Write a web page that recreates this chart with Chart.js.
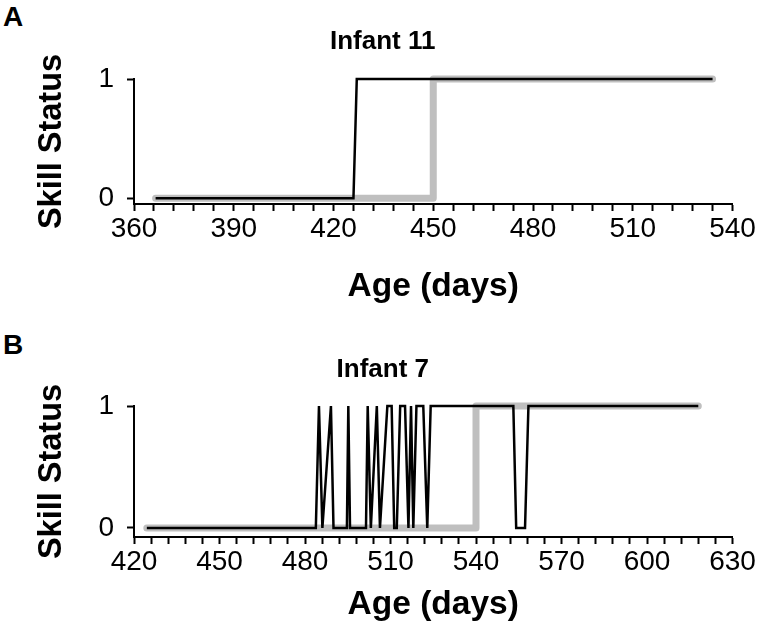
<!DOCTYPE html>
<html>
<head>
<meta charset="utf-8">
<script src="https://cdn.jsdelivr.net/npm/chart.js@4.4.0/dist/chart.umd.min.js"></script>
<style>
  body { margin: 0; background: #fff; width: 761px; height: 629px; overflow: hidden; position: relative; font-family: "Liberation Sans", Arial, sans-serif; }
  .panel-label { position: absolute; left: 3px; font-weight: bold; font-size: 28px; line-height: 1; color: #000; }
  canvas { position: absolute; left: 0; }
</style>
</head>
<body>
<div class="panel-label" style="top:3px">A</div>
<div class="panel-label" style="top:331px">B</div>
<canvas id="chartA" width="761" height="318" style="top:0"></canvas>
<canvas id="chartB" width="761" height="311" style="top:318px"></canvas>
<script>
// Infant 11: daily skill status (black) and onset criterion (grey)
const ageA_daily = [366.5, 426, 427, 534];
const statusA_daily = [0, 0, 1, 1];
const ageA_onset = [366.5, 450, 450, 534];
const statusA_onset = [0, 0, 1, 1];
const xLabelsA = [360, 390, 420, 450, 480, 510, 540];

// Infant 7
const ageB_daily = [424.5, 483.8, 484.9, 486.1, 489.1, 490.0, 494.7, 495.2, 495.8, 501.4, 502.0, 503.1,
  505.2, 506.3, 508.9, 510.4, 511.3, 512.2, 513.4, 515.1, 516.3, 517.2, 518.0, 519.1, 521.5, 522.9,
  524.1, 553.1, 554.1, 557.2, 558.4, 618];
const statusB_daily = [0, 0, 1, 0, 1, 0, 0, 1, 0, 0, 1, 0,
  1, 0, 1, 1, 0, 0, 1, 1, 0, 1, 0, 1, 1, 0,
  1, 1, 0, 0, 1, 1];
const ageB_onset = [424.5, 540, 540, 618];
const statusB_onset = [0, 0, 1, 1];
const xLabelsB = [420, 450, 480, 510, 540, 570, 600, 630];

const yTicks = [0, 1];

const tickFont = { family: "'Liberation Sans', Arial", size: 28 };
const boldFont = (size) => ({ family: "'Liberation Sans', Arial", size: size, weight: 'bold' });

function toPoints(xs, ys) {
  return xs.map((x, i) => ({ x: x, y: ys[i] }));
}

function skillChart(id, title, obsX, obsY, onX, onY, xLabels, yMin, lay) {
  const xMin = xLabels[0], xMax = xLabels[xLabels.length - 1];
  return new Chart(document.getElementById(id), {
    type: 'scatter',
    data: {
      datasets: [
        { data: toPoints(obsX, obsY), borderColor: '#000', borderWidth: 2.5, showLine: true,
          pointRadius: 0, borderJoinStyle: 'miter', tension: 0, clip: false },
        { data: toPoints(onX, onY), borderColor: '#bfbfbf', borderWidth: 7, showLine: true,
          pointRadius: 0, borderCapStyle: 'round', borderJoinStyle: 'round', tension: 0, clip: false }
      ]
    },
    options: {
      responsive: false,
      animation: false,
      devicePixelRatio: 1,
      layout: { padding: { left: 33, right: 28.5, top: 0, bottom: lay.bottom } },
      plugins: {
        legend: { display: false },
        tooltip: { enabled: false },
        title: { display: true, text: title, color: '#000', font: boldFont(26),
                 padding: { top: lay.titleTop, bottom: lay.titleBottom } }
      },
      scales: {
        x: {
          type: 'linear', min: xMin, max: xMax,
          afterBuildTicks: (s) => {
            const t = [];
            for (let v = xMin; v <= xMax; v += 6) t.push({ value: v });
            s.ticks = t;
          },
          afterFit: (s) => { s.height = lay.xAxisH; },
          ticks: { autoSkip: false, maxRotation: 0, color: '#000', font: tickFont, padding: 1,
                   callback: (v) => xLabels.includes(v) ? String(v) : '' },
          grid: { display: true, drawOnChartArea: false, drawTicks: true, tickLength: 7, tickWidth: 2, color: '#000' },
          border: { display: true, color: '#000', width: 2 },
          title: { display: true, text: 'Age (days)', color: '#000', font: boldFont(33.5), padding: 0 }
        },
        y: {
          type: 'linear', min: yMin, max: 1,
          afterBuildTicks: (s) => { s.ticks = yTicks.map(v => ({ value: v })); },
          afterFit: (s) => { s.width = 101; },
          ticks: { color: '#000', font: tickFont, padding: 13 },
          grid: { display: true, drawOnChartArea: false, drawTicks: true, tickLength: 7, tickWidth: 2, color: '#000' },
          border: { display: true, color: '#000', width: 2 },
          title: { display: true, text: 'Skill Status', color: '#000', font: boldFont(32.5), padding: 0 }
        }
      }
    }
  });
}

// titleTop + lineHeight(31.2) + titleBottom = chart area top
skillChart('chartA', 'Infant 11', ageA_daily, statusA_daily, ageA_onset, statusA_onset, xLabelsA, -0.048,
  { titleTop: 26.4, titleBottom: 21.4, xAxisH: 103, bottom: 11 });
skillChart('chartB', 'Infant 7', ageB_daily, statusB_daily, ageB_onset, statusB_onset, xLabelsB, -0.074,
  { titleTop: 36.4, titleBottom: 20.4, xAxisH: 88, bottom: 4 });
</script>
</body>
</html>
